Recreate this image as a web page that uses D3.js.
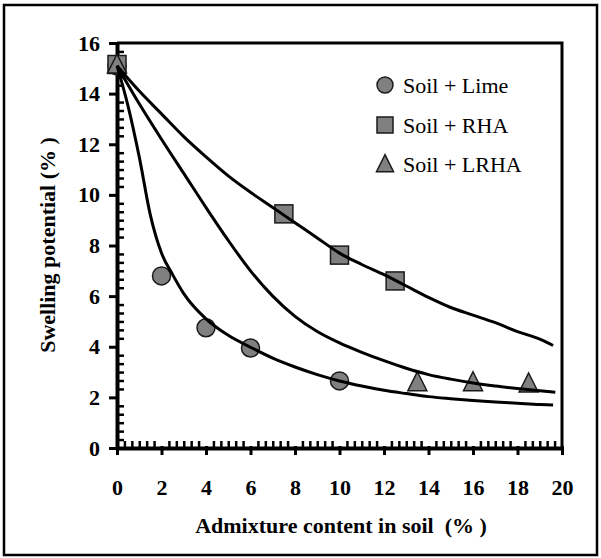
<!DOCTYPE html>
<html><head><meta charset="utf-8">
<script src="https://cdn.jsdelivr.net/npm/d3@7"></script>
<style>body{margin:0;background:#fff}svg{display:block}</style>
</head><body>
<svg id="c" width="601" height="558" style="font-family:'Liberation Serif',serif"></svg>
<script>
// ---- data ----
const limeX = [0, 2, 4, 6, 10];
const limeY = [15.1, 6.8, 4.75, 3.95, 2.65];
const rhaX = [0, 7.5, 10, 12.5];
const rhaY = [15.15, 9.25, 7.62, 6.6];
const lrhaX = [0, 13.5, 16, 18.5];
const lrhaY = [15.15, 2.6, 2.6, 2.55];
// fitted curves
const rhaCurveX = [0, 1, 2, 3, 4, 5, 6, 7, 8, 9, 10, 11, 12, 13, 14, 15, 16, 17, 18, 19, 19.6];
const rhaCurveY = [15.1, 14.1, 13.2, 12.3, 11.5, 10.75, 10.1, 9.5, 8.9, 8.3, 7.7, 7.25, 6.85, 6.4, 5.95, 5.55, 5.25, 4.95, 4.6, 4.3, 4.05];
const lrhaCurveX = [0, 1, 2, 3, 4, 5, 6, 7, 8, 9, 10, 11, 12, 13, 14, 15, 16, 17, 18, 19, 19.7];
const lrhaCurveY = [15.1, 13.6, 12.2, 10.85, 9.5, 8.2, 7.0, 6.0, 5.2, 4.6, 4.15, 3.78, 3.45, 3.15, 2.9, 2.72, 2.57, 2.45, 2.35, 2.26, 2.2];
const limeCurveX = [0, 0.5, 1, 1.5, 2, 2.5, 3, 4, 5, 6, 7, 8, 9, 10, 11, 12, 13, 14, 15, 16, 17, 18, 19, 19.6];
const limeCurveY = [15.1, 13.5, 11.5, 9.2, 7.7, 6.85, 6.1, 5.1, 4.45, 3.98, 3.55, 3.2, 2.9, 2.65, 2.45, 2.28, 2.15, 2.03, 1.95, 1.88, 1.82, 1.77, 1.72, 1.7];
const xTicks = [0, 2, 4, 6, 8, 10, 12, 14, 16, 18, 20];
const yTicks = [0, 2, 4, 6, 8, 10, 12, 14, 16];
const legendLabels = ["Soil + Lime", "Soil + RHA", "Soil + LRHA"];
const xTitle = "Admixture content in soil  (% )";
const yTitle = "Swelling potential (% )";

// ---- layout ----
const svg = d3.select("#c");
const L = 117, R = 562, T = 43, B = 448;
const x = d3.scaleLinear().domain([0, 20]).range([L, R]);
const y = d3.scaleLinear().domain([0, 16]).range([B, T]);
const serif = "'Liberation Serif', serif";
const grey = "#808080";

// outer frame
svg.append("rect").attr("x", 4).attr("y", 5).attr("width", 593).attr("height", 550)
  .attr("fill", "none").attr("stroke", "#000").attr("stroke-width", 2.5);

// plot top & right border
svg.append("path").attr("d", `M${L},${T}H${R}V${B}`).attr("fill", "none")
  .attr("stroke", "#000").attr("stroke-width", 3);

const minorX = d3.range(0, 61).map(i => i / 3).filter(v => v % 2 !== 0);
const minorY = d3.range(0, 49).map(i => i / 3).filter(v => v % 2 !== 0);

// minor ticks (inside)
svg.append("g").attr("transform", `translate(0,${B})`)
  .call(d3.axisTop(x).tickValues(minorX).tickSize(7).tickFormat(""))
  .call(g => g.select(".domain").remove())
  .call(g => g.selectAll("line").attr("stroke-width", 2.5));
svg.append("g").attr("transform", `translate(${L},0)`)
  .call(d3.axisRight(y).tickValues(minorY).tickSize(7).tickFormat(""))
  .call(g => g.select(".domain").remove())
  .call(g => g.selectAll("line").attr("stroke-width", 2.5));

// major axes
const xa = svg.append("g").attr("transform", `translate(0,${B})`)
  .call(d3.axisBottom(x).tickValues(xTicks).tickSize(7).tickSizeOuter(0).tickPadding(24));
const ya = svg.append("g").attr("transform", `translate(${L},0)`)
  .call(d3.axisLeft(y).tickValues(yTicks).tickSize(8).tickSizeOuter(0).tickPadding(9));
[xa, ya].forEach(g => {
  g.attr("font-family", null).attr("font-size", null);
  g.select(".domain").attr("stroke-width", 4);
  g.selectAll(".tick line").attr("stroke-width", 3);
  g.selectAll("text").style("font-family", serif).style("font-weight", "bold")
    .style("font-size", "22px").attr("fill", "#000");
});
ya.selectAll(".tick line").attr("x2", -8).attr("x1", 2);
xa.selectAll(".tick line").attr("y1", -2);

// markers
const mStroke = "#1a1a1a";
svg.append("g").selectAll("circle").data(limeX.map((v, i) => [v, limeY[i]])).join("circle")
  .attr("cx", d => x(d[0])).attr("cy", d => y(d[1])).attr("r", 9)
  .attr("fill", grey).attr("stroke", mStroke).attr("stroke-width", 1.5);
svg.append("g").selectAll("rect").data(rhaX.map((v, i) => [v, rhaY[i]])).join("rect")
  .attr("x", d => x(d[0]) - 9).attr("y", d => y(d[1]) - 9).attr("width", 18).attr("height", 18)
  .attr("fill", grey).attr("stroke", mStroke).attr("stroke-width", 1.5);
const tri = (cx, cy, s) => `M${cx},${cy - s * 0.55}L${cx + s / 2},${cy + s * 0.45}L${cx - s / 2},${cy + s * 0.45}Z`;
svg.append("g").selectAll("path").data(lrhaX.map((v, i) => [v, lrhaY[i]])).join("path")
  .attr("d", d => tri(x(d[0]), y(d[1]), 19))
  .attr("fill", grey).attr("stroke", mStroke).attr("stroke-width", 1.5);

// curves
const line = d3.line().x(d => x(d[0])).y(d => y(d[1])).curve(d3.curveMonotoneX);
[[rhaCurveX, rhaCurveY], [lrhaCurveX, lrhaCurveY], [limeCurveX, limeCurveY]].forEach(([cx, cy]) => {
  svg.append("path").datum(cx.map((v, i) => [v, cy[i]])).attr("d", line)
    .attr("fill", "none").attr("stroke", "#000").attr("stroke-width", 3);
});

// legend
const lg = svg.append("g");
const ly = [85, 125, 164];
lg.append("circle").attr("cx", 385).attr("cy", ly[0]).attr("r", 8)
  .attr("fill", grey).attr("stroke", mStroke).attr("stroke-width", 1.5);
lg.append("rect").attr("x", 377).attr("y", ly[1] - 8).attr("width", 16).attr("height", 16)
  .attr("fill", grey).attr("stroke", mStroke).attr("stroke-width", 1.5);
lg.append("path").attr("d", tri(385, ly[2], 17))
  .attr("fill", grey).attr("stroke", mStroke).attr("stroke-width", 1.5);
lg.selectAll("text").data(legendLabels).join("text")
  .attr("x", 403).attr("y", (d, i) => ly[i] + 8)
  .style("font-family", serif).style("font-size", "22px").attr("fill", "#000")
  .text(d => d);

// axis titles
svg.append("text").attr("x", 341).attr("y", 533).attr("text-anchor", "middle")
  .style("font-family", serif).style("font-weight", "bold").style("font-size", "22px")
  .style("white-space", "pre").text(xTitle);
svg.append("text").attr("transform", "translate(55,245) rotate(-90)").attr("text-anchor", "middle")
  .style("font-family", serif).style("font-weight", "bold").style("font-size", "22px")
  .style("white-space", "pre").text(yTitle);
</script>
</body></html>
